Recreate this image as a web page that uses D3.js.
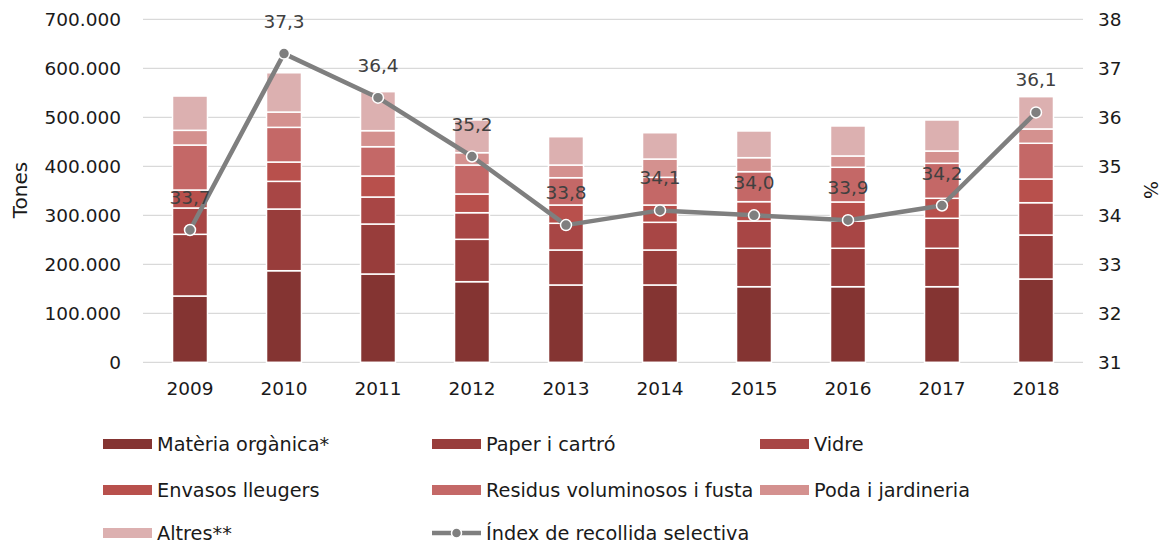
<!DOCTYPE html>
<html>
<head>
<meta charset="utf-8">
<script src="https://cdn.jsdelivr.net/npm/d3@7"></script>
<style>
  html, body { margin: 0; padding: 0; background: #fff; }
  svg { display: block; font-family: "DejaVu Sans", sans-serif; }
</style>
</head>
<body>
<svg id="chart" width="1167" height="545"></svg>
<script>
// Years on the category axis
const years = ["2009", "2010", "2011", "2012", "2013", "2014", "2015", "2016", "2017", "2018"];

// Tonnes collected by fraction (stacked bottom to top)
const materiaOrganica = [135300, 186900, 180200, 164500, 157800, 157800, 154300, 154300, 154300, 170000];
const paperCartro     = [125900, 125900, 102000,  86500,  71400,  71400,  78400,  78400,  78400,  89800];
const vidre           = [ 53700,  56500,  55100,  54300,  54500,  56500,  55700,  55700,  61200,  65900];
const envasos         = [ 36700,  39400,  42900,  38200,  37300,  35300,  39400,  38800,  40800,  48400];
const residus         = [ 91800,  70800,  59800,  59200,  55700,  56500,  61200,  70800,  71400,  72900];
const poda            = [ 30000,  31200,  32700,  25100,  25900,  37300,  28600,  23100,  25100,  29200];
const altres          = [ 70000,  80200,  79600,  66700,  57800,  53700,  54500,  61200,  63300,  65900];

// Selective collection index (%)
const indexRecollida = [33.7, 37.3, 36.4, 35.2, 33.8, 34.1, 34.0, 33.9, 34.2, 36.1];

// Series names and colours
const seriesNames = ["Matèria orgànica*", "Paper i cartró", "Vidre", "Envasos lleugers",
                     "Residus voluminosos i fusta", "Poda i jardineria", "Altres**"];
const seriesColors = ["#843432", "#983d3b", "#a84645", "#b8504c", "#c46867", "#d4918f", "#dcb0b0"];
const lineName = "Índex de recollida selectiva";

// Axis ticks
const leftTicks = [0, 100000, 200000, 300000, 400000, 500000, 600000, 700000];
const rightTicks = [31, 32, 33, 34, 35, 36, 37, 38];

const seriesValues = [materiaOrganica, paperCartro, vidre, envasos, residus, poda, altres];
const keys = seriesNames;
const rows = years.map((y, i) => {
  const r = { year: y };
  keys.forEach((k, j) => { r[k] = seriesValues[j][i]; });
  return r;
});

const locale = d3.formatLocale({ decimal: ",", thousands: ".", grouping: [3], currency: ["", " €"] });
const fmtThousands = locale.format(",");
const fmtPct = locale.format(".1f");

const svg = d3.select("#chart");
const plot = { left: 143, right: 1083, top: 19.3, bottom: 362.3 };

const x = d3.scaleBand().domain(years).range([plot.left, plot.right])
  .paddingInner(0.628).paddingOuter(0.314);
const y = d3.scaleLinear().domain([0, 700000]).range([plot.bottom, plot.top]);
const y2 = d3.scaleLinear().domain([31, 38]).range([plot.bottom, plot.top]);

// Gridlines
svg.append("g").selectAll("line").data(leftTicks).join("line")
  .attr("x1", plot.left).attr("x2", plot.right)
  .attr("y1", d => y(d)).attr("y2", d => y(d))
  .attr("stroke", "#d9d9d9").attr("stroke-width", 1.3);

// Left axis
const leftAxis = svg.append("g").attr("transform", `translate(${plot.left},0)`)
  .call(d3.axisLeft(y).tickValues(leftTicks).tickFormat(d => fmtThousands(d)).tickSize(0).tickPadding(22));
leftAxis.select(".domain").remove();
leftAxis.selectAll("text").attr("font-size", 18.5).attr("fill", "#1a1a1a")
  .attr("font-family", "DejaVu Sans");

// Right axis
const rightAxis = svg.append("g").attr("transform", `translate(${plot.right},0)`)
  .call(d3.axisRight(y2).tickValues(rightTicks).tickFormat(d => d).tickSize(0).tickPadding(15));
rightAxis.select(".domain").remove();
rightAxis.selectAll("text").attr("font-size", 18.5).attr("fill", "#1a1a1a")
  .attr("font-family", "DejaVu Sans");

// Bottom axis
const bottomAxis = svg.append("g").attr("transform", `translate(0,${plot.bottom})`)
  .call(d3.axisBottom(x).tickSize(0).tickPadding(20));
bottomAxis.select(".domain").remove();
bottomAxis.selectAll("text").attr("font-size", 18.5).attr("fill", "#1a1a1a")
  .attr("font-family", "DejaVu Sans");

// Axis titles
svg.append("text").attr("transform", `translate(27,190) rotate(-90)`)
  .attr("text-anchor", "middle").attr("font-size", 20).attr("fill", "#1a1a1a").text("Tones");
svg.append("text").attr("transform", `translate(1144,190) rotate(90)`)
  .attr("text-anchor", "middle").attr("font-size", 19).attr("fill", "#1a1a1a").text("%");

// Stacked bars
const stacked = d3.stack().keys(keys)(rows);
svg.append("g").selectAll("g").data(stacked).join("g")
  .attr("fill", (d, i) => seriesColors[i])
  .selectAll("rect").data(d => d).join("rect")
  .attr("x", d => x(d.data.year))
  .attr("width", x.bandwidth())
  .attr("y", d => y(d[1]))
  .attr("height", d => y(d[0]) - y(d[1]))
  .attr("stroke", "#ffffff").attr("stroke-width", 1.5);

// Index line
const pts = years.map((yr, i) => ({ year: yr, v: indexRecollida[i] }));
const line = d3.line().x(d => x(d.year) + x.bandwidth() / 2).y(d => y2(d.v));
svg.append("path").datum(pts).attr("d", line)
  .attr("fill", "none").attr("stroke", "#7f7f7f").attr("stroke-width", 4.5)
  .attr("stroke-linejoin", "round");
svg.append("g").selectAll("circle").data(pts).join("circle")
  .attr("cx", d => x(d.year) + x.bandwidth() / 2).attr("cy", d => y2(d.v))
  .attr("r", 5.5).attr("fill", "#7f7f7f").attr("stroke", "#ffffff").attr("stroke-width", 1.5);

// Data labels
svg.append("g").selectAll("text").data(pts).join("text")
  .attr("x", d => x(d.year) + x.bandwidth() / 2).attr("y", d => y2(d.v) - 26)
  .attr("text-anchor", "middle").attr("font-size", 18.5).attr("fill", "#404040")
  .text(d => fmtPct(d.v));

// Legend
const legendItems = seriesNames.map((n, i) => ({ name: n, color: seriesColors[i], type: "bar" }))
  .concat([{ name: lineName, color: "#7f7f7f", type: "line" }]);
const colX = [103, 432, 760];
const rowY = [444, 490, 533];
const lg = svg.append("g").selectAll("g").data(legendItems).join("g")
  .attr("transform", (d, i) => `translate(${colX[i % 3]},${rowY[Math.floor(i / 3)]})`);
lg.filter(d => d.type === "bar").append("rect")
  .attr("x", 0).attr("y", -5).attr("width", 49).attr("height", 10).attr("fill", d => d.color);
const ll = lg.filter(d => d.type === "line");
ll.append("line").attr("x1", 0).attr("x2", 49).attr("y1", 0).attr("y2", 0)
  .attr("stroke", "#7f7f7f").attr("stroke-width", 4.5);
ll.append("circle").attr("cx", 24.5).attr("cy", 0).attr("r", 5)
  .attr("fill", "#7f7f7f").attr("stroke", "#fff").attr("stroke-width", 1.5);
lg.append("text").attr("x", 54).attr("y", 0).attr("dy", "0.35em")
  .attr("font-size", 19.3).attr("fill", "#1a1a1a").text(d => d.name);
</script>
</body>
</html>
